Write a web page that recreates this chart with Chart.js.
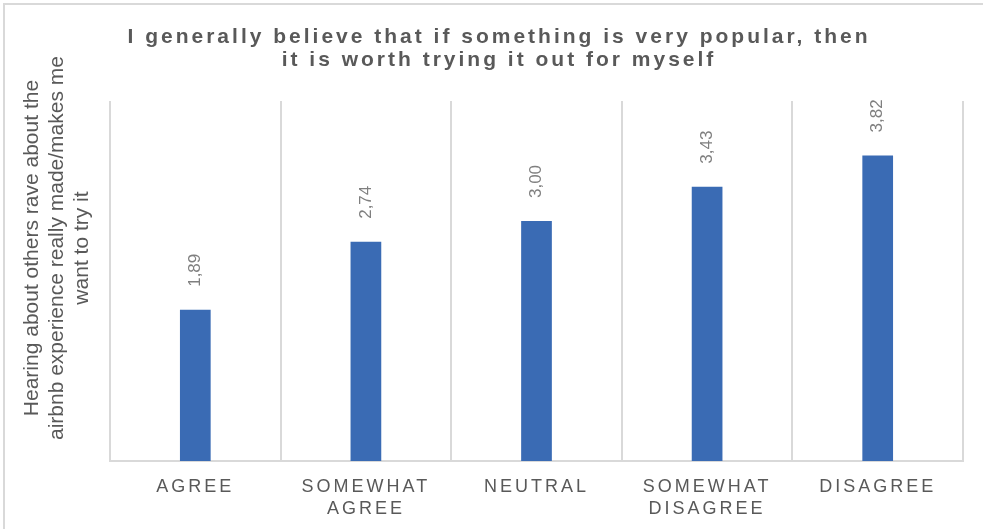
<!DOCTYPE html>
<html lang="en">
<head>
<meta charset="UTF-8">
<title>Popularity vs. airbnb word of mouth</title>
<script src="https://cdn.jsdelivr.net/npm/chart.js"></script>
<style>
  html, body { margin: 0; padding: 0; background: #fff; overflow: hidden; }
  #wrap { position: relative; width: 983px; height: 529px; }
  #frame {
    position: absolute; left: 3px; top: 3px; width: 1000px; height: 560px;
    border-left: 2px solid #d9d9d9; border-top: 2px solid #d9d9d9;
    pointer-events: none;
  }
</style>
</head>
<body>
<div id="wrap">
  <canvas id="chart"></canvas>
  <div id="frame"></div>
</div>
<script>
const categories = [
  'AGREE',
  ['SOMEWHAT', 'AGREE'],
  'NEUTRAL',
  ['SOMEWHAT', 'DISAGREE'],
  'DISAGREE'
];
const meanScores = [1.89, 2.74, 3.00, 3.43, 3.82];
const chartTitle = [
  'I generally believe that if something is very popular, then',
  'it is worth trying it out for myself'
];
const yTitle = [
  'Hearing about others rave about the',
  'airbnb experience really made/makes me',
  'want to try it'
];

const FONT = "'Liberation Sans', Arial, sans-serif";
const GREY = '#595959';

// letter spacing for title + category labels, none for the rest
const spacing = {
  id: 'spacing',
  beforeDraw(chart) { chart.ctx.letterSpacing = '3px'; },
  beforeDatasetsDraw(chart) { chart.ctx.letterSpacing = '0px'; }
};

// rotated value labels above each bar, written with a decimal comma
const valueLabels = {
  id: 'valueLabels',
  afterDatasetsDraw(chart) {
    const ctx = chart.ctx;
    const meta = chart.getDatasetMeta(0);
    ctx.save();
    ctx.font = '17px ' + FONT;
    ctx.fillStyle = '#7f7f7f';
    ctx.textAlign = 'left';
    ctx.textBaseline = 'middle';
    meta.data.forEach((bar, i) => {
      ctx.save();
      ctx.translate(bar.x, bar.y - 23);
      ctx.rotate(-Math.PI / 2);
      ctx.fillText(meanScores[i].toFixed(2).replace('.', ','), 0, 0);
      ctx.restore();
    });
    ctx.restore();
  }
};

// y title sits a bit above the plot's middle, so it is drawn by hand
const yAxisTitle = {
  id: 'yAxisTitle',
  afterDraw(chart) {
    const ctx = chart.ctx;
    const area = chart.chartArea;
    const lineH = 25;
    const cx = area.left - 53;
    const cy = area.top + 147;
    ctx.save();
    ctx.letterSpacing = '0px';
    ctx.font = '21px ' + FONT;
    ctx.fillStyle = GREY;
    ctx.textAlign = 'center';
    ctx.textBaseline = 'middle';
    ctx.translate(cx, cy);
    ctx.rotate(-Math.PI / 2);
    yTitle.forEach((line, i) => {
      ctx.fillText(line, 0, (i - 1) * lineH);
    });
    ctx.restore();
  }
};

new Chart(document.getElementById('chart'), {
  type: 'bar',
  data: {
    labels: categories,
    datasets: [{
      data: meanScores,
      backgroundColor: '#3a6bb4',
      borderWidth: 0,
      categoryPercentage: 1,
      barPercentage: 0.18
    }]
  },
  options: {
    responsive: true,
    maintainAspectRatio: false,
    animation: false,
    layout: { padding: { left: 35, right: 20, top: 0, bottom: 0 } },
    plugins: {
      legend: { display: false },
      tooltip: { enabled: false },
      title: {
        display: true,
        text: chartTitle,
        color: GREY,
        font: { family: FONT, size: 21, weight: 'bold', lineHeight: 1.12 },
        padding: { top: 25, bottom: 29 }
      }
    },
    scales: {
      x: {
        offset: true,
        grid: {
          offset: true,
          color: '#d9d9d9',
          lineWidth: 2,
          drawTicks: false
        },
        border: { color: '#d9d9d9', width: 2 },
        ticks: {
          color: GREY,
          font: { family: FONT, size: 18, lineHeight: 1.17 },
          padding: 16,
          maxRotation: 0,
          autoSkip: false
        },
        afterFit(scale) { scale.height = 68; }
      },
      y: {
        display: true,
        min: 0,
        max: 4.5,
        grid: { display: false },
        border: { display: false },
        ticks: { display: false },
        afterFit(scale) { scale.width = 75; }
      }
    }
  },
  plugins: [spacing, valueLabels, yAxisTitle]
});
</script>
</body>
</html>
